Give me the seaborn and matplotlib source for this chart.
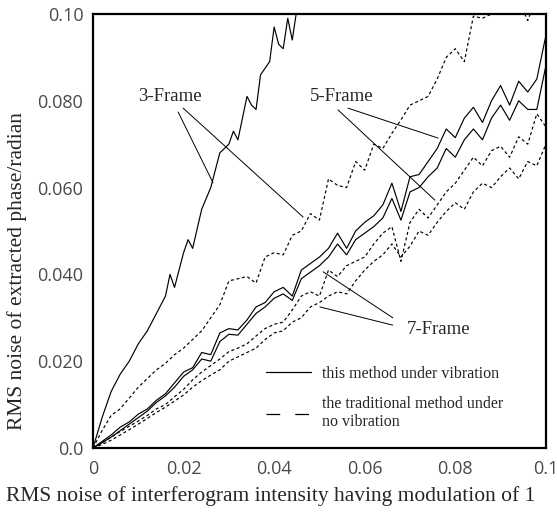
import numpy as np
import pandas as pd
import seaborn as sns
import matplotlib.pyplot as plt
from matplotlib.lines import Line2D

# x grid shared by the long curves (read every 0.002)
x_grid = [0.000, 0.002, 0.004, 0.006, 0.008, 0.010, 0.012, 0.014, 0.016, 0.018,
          0.020, 0.022, 0.024, 0.026, 0.028, 0.030, 0.032, 0.034, 0.036, 0.038,
          0.040, 0.042, 0.044, 0.046, 0.048, 0.050, 0.052, 0.054, 0.056, 0.058,
          0.060, 0.062, 0.064, 0.066, 0.068, 0.070, 0.072, 0.074, 0.076, 0.078,
          0.080, 0.082, 0.084, 0.086, 0.088, 0.090, 0.092, 0.094, 0.096, 0.098,
          0.100]

# 3-frame, this method (steep, leaves the plot near 0.045)
x_3vib = [0.000, 0.002, 0.004, 0.006, 0.008, 0.010, 0.012, 0.014, 0.016, 0.017,
          0.018, 0.020, 0.021, 0.022, 0.024, 0.026, 0.028, 0.030, 0.031, 0.032,
          0.034, 0.035, 0.036, 0.037, 0.039, 0.040, 0.041, 0.042, 0.043, 0.044,
          0.046]
y_3vib = [0.000, 0.007, 0.013, 0.017, 0.020, 0.024, 0.027, 0.031, 0.035, 0.040,
          0.037, 0.045, 0.048, 0.046, 0.055, 0.060, 0.068, 0.070, 0.073, 0.071,
          0.081, 0.079, 0.078, 0.086, 0.089, 0.097, 0.093, 0.092, 0.099, 0.094,
          0.108]

# 3-frame, traditional
y_3trad = [0.000, 0.004, 0.0075, 0.009, 0.0115, 0.014, 0.016, 0.018, 0.0195, 0.0215,
           0.023, 0.025, 0.027, 0.030, 0.033, 0.0385, 0.039, 0.0395, 0.038, 0.044,
           0.045, 0.0445, 0.049, 0.050, 0.054, 0.0525, 0.062, 0.0605, 0.060, 0.066,
           0.064, 0.070, 0.069, 0.0725, 0.0756, 0.079, 0.080, 0.081, 0.085, 0.090,
           0.092, 0.089, 0.0995, 0.099, 0.100, 0.103, 0.105, 0.103, 0.0985, 0.104,
           0.106]

# 5-frame, this method
y_5vib = [0.000, 0.0015, 0.003, 0.0048, 0.006, 0.0078, 0.009, 0.011, 0.0125, 0.015,
          0.0175, 0.0185, 0.022, 0.0215, 0.0265, 0.0275, 0.0272, 0.0295, 0.0325, 0.0335,
          0.036, 0.037, 0.035, 0.041, 0.0425, 0.044, 0.046, 0.0495, 0.046, 0.050,
          0.052, 0.0535, 0.056, 0.061, 0.0545, 0.0625, 0.063, 0.066, 0.069, 0.0735,
          0.0715, 0.076, 0.0785, 0.075, 0.080, 0.0835, 0.079, 0.0845, 0.082, 0.085,
          0.095]

# 7-frame, this method
y_7vib = [0.000, 0.0012, 0.0025, 0.004, 0.0055, 0.007, 0.0085, 0.0105, 0.012, 0.014,
          0.0165, 0.018, 0.0205, 0.020, 0.0245, 0.0262, 0.026, 0.0285, 0.031, 0.0325,
          0.0345, 0.0355, 0.034, 0.039, 0.0405, 0.042, 0.044, 0.047, 0.0445, 0.048,
          0.0495, 0.051, 0.053, 0.0575, 0.0525, 0.059, 0.060, 0.0625, 0.0645, 0.069,
          0.067, 0.071, 0.0735, 0.071, 0.076, 0.079, 0.0755, 0.080, 0.078, 0.078,
          0.088]

# 5-frame, traditional
y_5trad = [0.000, 0.0012, 0.0025, 0.0038, 0.005, 0.0062, 0.0075, 0.009, 0.010, 0.0118,
           0.0135, 0.0157, 0.0175, 0.019, 0.0205, 0.0222, 0.023, 0.024, 0.0258, 0.0275,
           0.0285, 0.029, 0.0318, 0.035, 0.036, 0.035, 0.041, 0.0395, 0.042, 0.043,
           0.044, 0.047, 0.0495, 0.051, 0.043, 0.052, 0.055, 0.053, 0.056, 0.059,
           0.061, 0.064, 0.067, 0.065, 0.0685, 0.0695, 0.067, 0.0717, 0.070, 0.077,
           0.074]

# 7-frame, traditional
y_7trad = [0.000, 0.0008, 0.0018, 0.003, 0.0042, 0.0055, 0.0068, 0.0082, 0.0094, 0.0108,
           0.0122, 0.014, 0.0155, 0.0168, 0.018, 0.020, 0.021, 0.022, 0.023, 0.025,
           0.0265, 0.027, 0.029, 0.030, 0.0325, 0.0335, 0.035, 0.036, 0.0355, 0.0385,
           0.041, 0.043, 0.0445, 0.047, 0.044, 0.0465, 0.050, 0.049, 0.052, 0.0545,
           0.0565, 0.055, 0.059, 0.061, 0.060, 0.0625, 0.0645, 0.062, 0.066, 0.065,
           0.070]

x_ticks = [0, 0.02, 0.04, 0.06, 0.08, 0.1]
x_tick_labels = ["0", "0.02", "0.04", "0.06", "0.08", "0.1"]
y_ticks = [0, 0.02, 0.04, 0.06, 0.08, 0.1]
y_tick_labels = ["0.0", "0.020", "0.040", "0.060", "0.080", "0.10"]

legend_labels = ["this method under vibration", "the traditional method under\nno vibration"]

# callouts: label, text position, two pointer lines (start, end)
callouts = [
    ("3-Frame", (0.0170, 0.0809), [((0.0188, 0.0774), (0.0265, 0.0611)),
                                   ((0.0199, 0.0783), (0.0464, 0.0532))]),
    ("5-Frame", (0.0550, 0.0809), [((0.0563, 0.0783), (0.0762, 0.0714)),
                                   ((0.0541, 0.0779), (0.0755, 0.0571))]),
    ("7-Frame", (0.0764, 0.0274), [((0.0662, 0.0300), (0.0508, 0.0406)),
                                   ((0.0662, 0.0283), (0.0501, 0.0325))]),
]

frames = []
frames.append(pd.DataFrame({"x": x_3vib, "y": y_3vib, "curve": "3vib"}))
for name, ys in [("3trad", y_3trad), ("5vib", y_5vib), ("7vib", y_7vib),
                 ("5trad", y_5trad), ("7trad", y_7trad)]:
    frames.append(pd.DataFrame({"x": x_grid, "y": ys, "curve": name}))
df = pd.concat(frames, ignore_index=True)

dot = (2.6, 2.2)
dash_map = {"3vib": "", "5vib": "", "7vib": "",
            "3trad": dot, "5trad": dot, "7trad": dot}

sns.set_style("white")
plt.rcParams['font.family'] = ['Open Sans', 'DejaVu Sans']
serif = 'Liberation Serif'

fig = plt.figure(figsize=(5.57, 5.17), dpi=100)
ax = fig.add_axes([0.167, 0.1335, 0.813, 0.8395])

sns.lineplot(data=df, x="x", y="y", style="curve", dashes=dash_map,
             color="black", lw=0.85, estimator=None, sort=False,
             legend=False, ax=ax)

ax.set_xlim(0, 0.1)
ax.set_ylim(0, 0.1)
ax.set_xticks(x_ticks)
ax.set_xticklabels(x_tick_labels)
ax.set_yticks(y_ticks)
ax.set_yticklabels(y_tick_labels)
ax.tick_params(axis='both', direction='in', length=5, width=1, labelsize=13,
               labelcolor='#4a4a4a', top=False, right=False)
ax.tick_params(axis='x', pad=9)
ax.tick_params(axis='y', pad=7)
for s in ax.spines.values():
    s.set_linewidth(1.6)
    s.set_color('black')

ax.set_xlabel("RMS noise of interferogram intensity having modulation of 1",
              family=serif, fontsize=15.5)
ax.set_ylabel("RMS noise of extracted phase/radian", family=serif, fontsize=15.5)
ax.xaxis.set_label_coords(0.393, -0.088)
ax.yaxis.set_label_coords(-0.145, 0.408)

for label, pos, lines in callouts:
    ax.text(pos[0], pos[1], label, family=serif, fontsize=13.5,
            ha='center', va='center')
    for start, end in lines:
        ax.annotate('', xy=end, xytext=start,
                    arrowprops=dict(arrowstyle='-', lw=0.7, color='black',
                                    shrinkA=0, shrinkB=0))

handles = [Line2D([], [], color='black', lw=0.9),
           Line2D([], [], color='black', lw=0.9, dashes=(11, 12))]
ax.legend(handles, legend_labels, loc='upper left', bbox_to_anchor=(0.382, 0.19),
          frameon=False, prop={'family': serif, 'size': 11.5},
          handlelength=2.8, handletextpad=0.7, labelspacing=0.9,
          borderpad=0, borderaxespad=0)

fig.savefig("out.png", dpi=100)
